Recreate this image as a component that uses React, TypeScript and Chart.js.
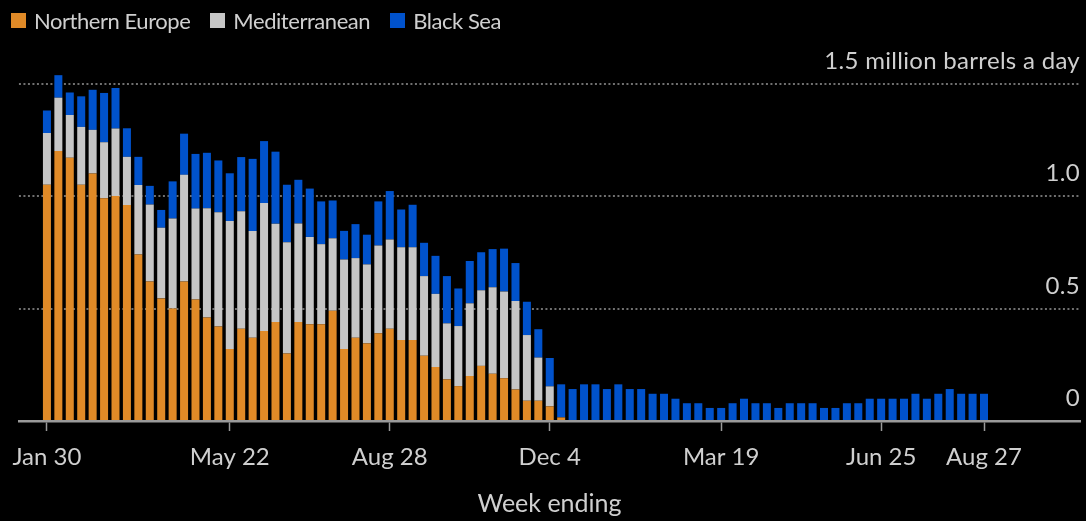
import React, { useEffect, useRef } from "react";
import { Chart, registerables } from "chart.js";

Chart.register(...registerables);

// Weekly seaborne shipments by origin, million barrels a day (week ending Jan 30 … Aug 27)
const northernEurope = [
  1.05, 1.2, 1.17, 1.05, 1.1, 0.99, 1.0, 0.96, 0.74, 0.62,
  0.545, 0.5, 0.62, 0.54, 0.46, 0.42, 0.32, 0.41, 0.37, 0.4,
  0.44, 0.3, 0.44, 0.43, 0.43, 0.49, 0.32, 0.37, 0.345, 0.39,
  0.41, 0.36, 0.36, 0.29, 0.24, 0.185, 0.155, 0.2, 0.245, 0.21,
  0.19, 0.14, 0.09, 0.09, 0.065, 0.016, 0, 0, 0, 0,
  0, 0, 0, 0, 0, 0, 0, 0, 0, 0,
  0, 0, 0, 0, 0, 0, 0, 0, 0, 0,
  0, 0, 0, 0, 0, 0, 0, 0, 0, 0,
  0, 0, 0,
];

const mediterranean = [
  0.23, 0.237, 0.19, 0.257, 0.194, 0.249, 0.3, 0.214, 0.309, 0.342,
  0.314, 0.4, 0.474, 0.404, 0.486, 0.508, 0.569, 0.522, 0.474, 0.569,
  0.437, 0.495, 0.438, 0.388, 0.356, 0.322, 0.398, 0.354, 0.351, 0.39,
  0.397, 0.412, 0.412, 0.354, 0.325, 0.249, 0.267, 0.323, 0.336, 0.385,
  0.386, 0.393, 0.292, 0.192, 0.089, 0, 0, 0, 0, 0,
  0, 0, 0, 0, 0, 0, 0, 0, 0, 0,
  0, 0, 0, 0, 0, 0, 0, 0, 0, 0,
  0, 0, 0, 0, 0, 0, 0, 0, 0, 0,
  0, 0, 0,
];

const blackSea = [
  0.1, 0.1, 0.1, 0.136, 0.178, 0.219, 0.18, 0.127, 0.125, 0.083,
  0.079, 0.165, 0.183, 0.243, 0.246, 0.23, 0.212, 0.241, 0.321, 0.275,
  0.32, 0.255, 0.194, 0.215, 0.19, 0.168, 0.127, 0.151, 0.132, 0.196,
  0.215, 0.168, 0.189, 0.148, 0.169, 0.21, 0.167, 0.188, 0.169, 0.169,
  0.19, 0.169, 0.148, 0.126, 0.126, 0.147, 0.142, 0.163, 0.163, 0.142,
  0.163, 0.142, 0.142, 0.121, 0.121, 0.099, 0.079, 0.079, 0.058, 0.058,
  0.079, 0.099, 0.079, 0.079, 0.058, 0.079, 0.079, 0.079, 0.058, 0.058,
  0.079, 0.079, 0.099, 0.099, 0.099, 0.099, 0.121, 0.099, 0.121, 0.142,
  0.121, 0.121, 0.121,
];

// Week numbers (0 = week ending Jan 30) that carry a date label
const tickWeeks = [0, 16, 30, 44, 59, 73, 82];
const tickLabels = ["Jan 30", "May 22", "Aug 28", "Dec 4", "Mar 19", "Jun 25", "Aug 27"];

const yTickValues = [0, 0.5, 1, 1.5];
const yTickLabels = ["0", "0.5", "1.0", "1.5 million barrels a day"];

const seriesNames = ["Northern Europe", "Mediterranean", "Black Sea"];
const xTitle = "Week ending";

const ORANGE = "#E08A27";
const GRAY = "#C6C6C6";
const BLUE = "#0052CC";
const TEXT = "#CFCFCF";
const FONT = "Lato";

const seriesColors = [ORANGE, GRAY, BLUE];

// Value labels sit right-aligned just above their dotted grid lines; the axis title is centred below.
const axisText = {
  id: "axisText",
  afterDraw(chart: any) {
    const { ctx, chartArea, scales } = chart;
    const y = scales.y;
    const x = scales.x;
    ctx.save();
    ctx.fillStyle = TEXT;
    ctx.font = `24px ${FONT}`;
    (ctx as any).letterSpacing = "0.3px";
    ctx.textAlign = "right";
    ctx.textBaseline = "alphabetic";
    yTickValues.forEach((v, i) => {
      ctx.fillText(yTickLabels[i], chartArea.right, y.getPixelForValue(v) - 15);
    });
    (ctx as any).letterSpacing = "0px";
    ctx.font = `25px ${FONT}`;
    ctx.textAlign = "center";
    ctx.textBaseline = "middle";
    ctx.fillText(xTitle, (chartArea.left + chartArea.right) / 2, x.bottom - 17);
    ctx.restore();
  },
};

export default function App() {
  const canvasRef = useRef<HTMLCanvasElement | null>(null);

  useEffect(() => {
    let chart: Chart | null = null;
    let cancelled = false;

    const build = () => {
      if (cancelled || !canvasRef.current) return;
      const series = [northernEurope, mediterranean, blackSea];
      chart = new Chart(canvasRef.current, {
        type: "bar",
        data: {
          datasets: series.map((values, s) => ({
            label: seriesNames[s],
            data: values.map((v, i) => ({ x: i, y: v })),
            backgroundColor: seriesColors[s],
            borderWidth: 0,
            barPercentage: 0.7,
            categoryPercentage: 1,
            stack: "all",
          })),
        },
        options: {
          animation: false,
          responsive: false,
          maintainAspectRatio: false,
          layout: { padding: { left: 17, top: 61, right: 0, bottom: 0 } },
          plugins: {
            legend: { display: false },
            tooltip: { enabled: false },
          },
          scales: {
            x: {
              type: "linear",
              min: -2.45,
              max: 90.4,
              stacked: true,
              offset: false,
              afterBuildTicks: (scale: any) => {
                scale.ticks = tickWeeks.map((v) => ({ value: v }));
              },
              afterFit: (scale: any) => {
                scale.height = 100;
              },
              ticks: {
                autoSkip: false,
                maxRotation: 0,
                padding: 12,
                color: TEXT,
                font: { family: FONT, size: 24 },
                callback: (value: any) => {
                  const k = tickWeeks.indexOf(Number(value));
                  return k >= 0 ? tickLabels[k] : "";
                },
              },
              grid: {
                offset: false,
                drawOnChartArea: false,
                drawTicks: true,
                tickLength: 10,
                tickColor: "#9A9A9A",
                tickWidth: 1.5,
              },
              border: { display: true, color: "#9A9A9A", width: 2.5 },
            },
            y: {
              type: "linear",
              position: "right",
              min: 0,
              max: 1.6,
              stacked: true,
              afterBuildTicks: (scale: any) => {
                scale.ticks = yTickValues.map((v) => ({ value: v }));
              },
              afterFit: (scale: any) => {
                scale.width = 6;
              },
              ticks: { display: false },
              grid: { color: "#707070", lineWidth: 2, drawTicks: false },
              border: { display: false, dash: [2, 2.5] },
            },
          },
        },
        plugins: [axisText],
      });
    };

    if (document.fonts && document.fonts.load) {
      Promise.all([
        document.fonts.load(`24px ${FONT}`),
        document.fonts.load(`22px ${FONT}`),
      ]).then(build, build);
    } else {
      build();
    }

    return () => {
      cancelled = true;
      if (chart) chart.destroy();
    };
  }, []);

  return (
    <div
      style={{
        position: "fixed",
        left: 0,
        top: 0,
        width: 1086,
        height: 521,
        background: "#000",
        overflow: "hidden",
      }}
    >
      <canvas ref={canvasRef} width={1086} height={521} style={{ display: "block" }} />
      <div
        style={{
          position: "absolute",
          left: 11,
          top: 4,
          height: 32,
          display: "flex",
          alignItems: "center",
          fontFamily: FONT,
          fontSize: 22,
          letterSpacing: "-0.45px",
          color: TEXT,
          whiteSpace: "nowrap",
        }}
      >
        {seriesNames.map((name, i) => (
          <div key={name} style={{ display: "flex", alignItems: "center", marginRight: 20 }}>
            <span
              style={{
                display: "inline-block",
                width: 15,
                height: 15,
                background: seriesColors[i],
                marginRight: 8,
              }}
            />
            <span>{name}</span>
          </div>
        ))}
      </div>
    </div>
  );
}
